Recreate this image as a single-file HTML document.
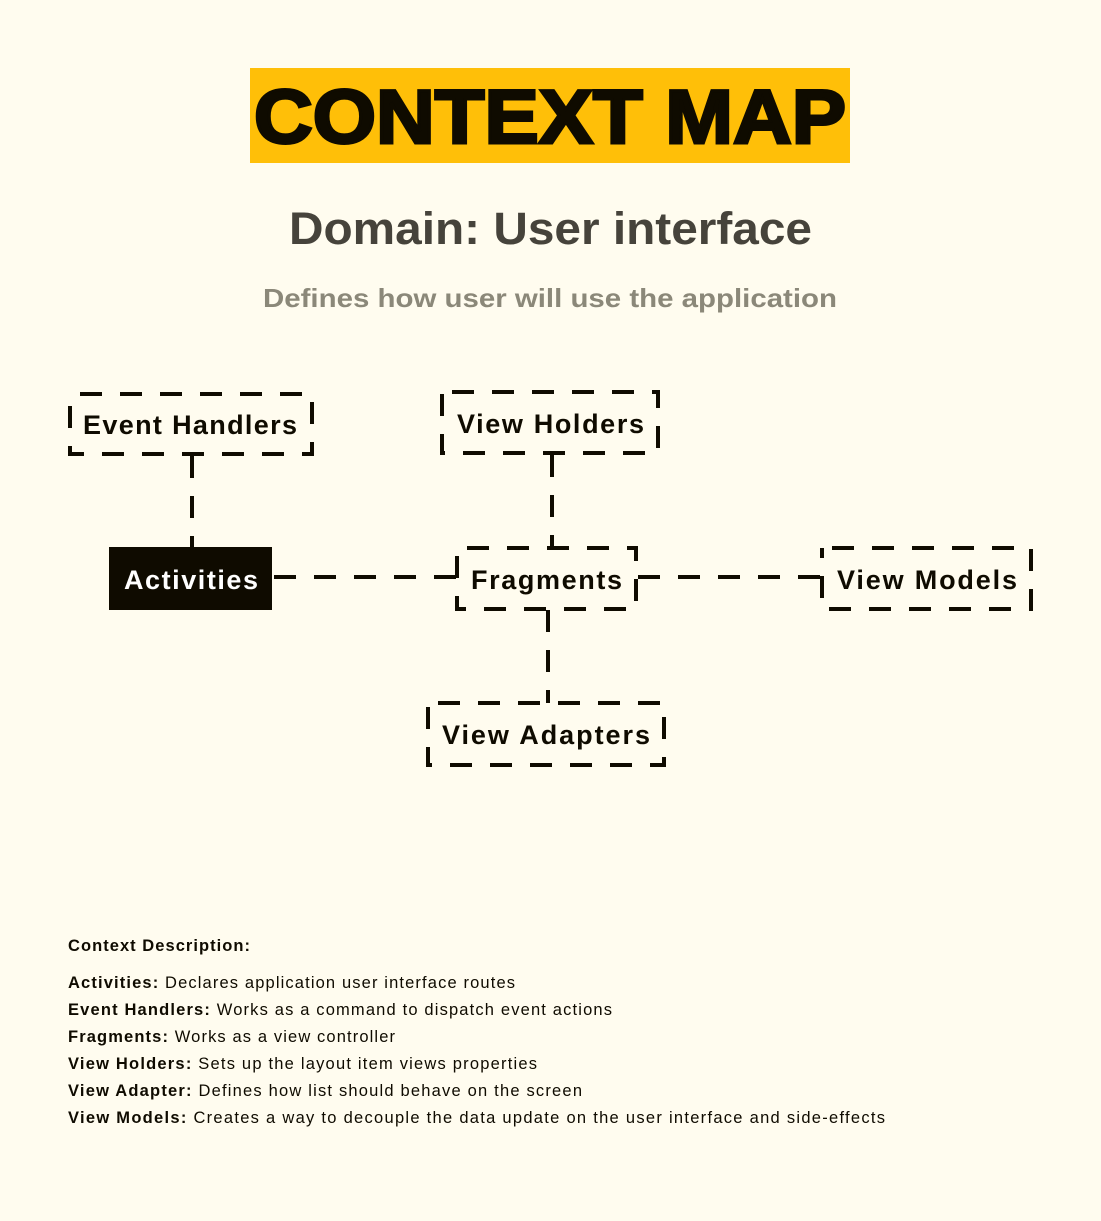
<!DOCTYPE html>
<html><head><meta charset="utf-8"><style>
html,body{margin:0;padding:0;background:#fffcef;}
svg{display:block;font-family:"Liberation Sans",sans-serif;}
</style></head><body>
<svg width="1101" height="1221" viewBox="0 0 1101 1221">
<rect width="1101" height="1221" fill="#fffcef"/>
<rect x="250" y="68" width="600" height="95" fill="#ffbf08"/>
<text x="550" y="143" text-anchor="middle" font-size="76" font-weight="900" fill="#0f0b00" textLength="592" lengthAdjust="spacingAndGlyphs" stroke="#0f0b00" stroke-width="3">CONTEXT MAP</text>
<text x="289" y="244" font-size="45" font-weight="bold" fill="#46433b" textLength="523" lengthAdjust="spacingAndGlyphs">Domain: User interface</text>
<text x="263" y="307" font-size="26" font-weight="bold" fill="#8b8879" textLength="574" lengthAdjust="spacingAndGlyphs">Defines how user will use the application</text>
<g stroke="#0f0b00" stroke-width="4" fill="none" stroke-dasharray="22 18">
<line x1="192" y1="456" x2="192" y2="547"/>
<line x1="552" y1="455" x2="552" y2="548"/>
<line x1="548" y1="610" x2="548" y2="703"/>
<line x1="274" y1="577" x2="457" y2="577"/>
<line x1="638" y1="577" x2="822" y2="577"/>
<rect x="70" y="394" width="242" height="60" stroke-dashoffset="-10"/>
<rect x="442" y="392" width="216" height="61" stroke-dashoffset="-10"/>
<rect x="457" y="548" width="179" height="61" stroke-dashoffset="-10"/>
<rect x="822" y="548" width="209" height="61" stroke-dashoffset="-10"/>
<rect x="428" y="703" width="236" height="62" stroke-dashoffset="-10"/>
</g>
<rect x="109" y="547" width="163" height="63" fill="#0f0b00"/>
<g font-size="27" font-weight="bold" fill="#0f0b00" lengthAdjust="spacingAndGlyphs">
<text x="83" y="434" textLength="214">Event Handlers</text>
<text x="457" y="433" textLength="187">View Holders</text>
<text x="124" y="589" fill="#fff" textLength="134">Activities</text>
<text x="471" y="589" textLength="151">Fragments</text>
<text x="837" y="589" textLength="180">View Models</text>
<text x="442" y="744" textLength="208">View Adapters</text>
</g>
<g font-size="16.5" fill="#0f0b00" lengthAdjust="spacingAndGlyphs">
<text x="68" y="951" font-weight="bold" textLength="182">Context Description:</text>
<text x="68" y="988" textLength="447"><tspan font-weight="bold">Activities:</tspan> Declares application user interface routes</text>
<text x="68" y="1015" textLength="544"><tspan font-weight="bold">Event Handlers:</tspan> Works as a command to dispatch event actions</text>
<text x="68" y="1042" textLength="327"><tspan font-weight="bold">Fragments:</tspan> Works as a view controller</text>
<text x="68" y="1069" textLength="469"><tspan font-weight="bold">View Holders:</tspan> Sets up the layout item views properties</text>
<text x="68" y="1096" textLength="514"><tspan font-weight="bold">View Adapter:</tspan> Defines how list should behave on the screen</text>
<text x="68" y="1123" textLength="817"><tspan font-weight="bold">View Models:</tspan> Creates a way to decouple the data update on the user interface and side-effects</text>
</g>
</svg>
</body></html>
